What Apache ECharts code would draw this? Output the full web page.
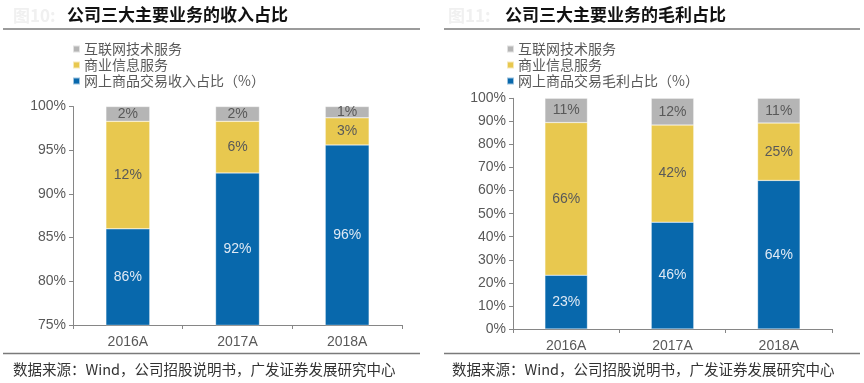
<!DOCTYPE html>
<html><head><meta charset="utf-8">
<script src="https://cdn.jsdelivr.net/npm/echarts@6/dist/echarts.min.js"></script>
<style>html,body{margin:0;padding:0;background:#fff}#c{width:864px;height:383px}</style>
</head><body><div id="c"></div>
<script>
// ---- data ----
const categories = ['2016A', '2017A', '2018A'];
// 公司三大主要业务的收入占比 (%)
const revOnline = [86.0, 92.4, 95.6];    // 网上商品交易收入占比
const revBusiness = [12.3, 5.9, 3.1];    // 商业信息服务
const revInternet = [1.7, 1.7, 1.3];     // 互联网技术服务
// 公司三大主要业务的毛利占比 (%)
const gpOnline = [23.3, 46.3, 64.4];     // 网上商品交易毛利占比
const gpBusiness = [66.2, 42.1, 24.9];   // 商业信息服务
const gpInternet = [10.5, 11.6, 10.7];   // 互联网技术服务

const nameInternet = '互联网技术服务';
const nameBusiness = '商业信息服务';
const nameRevOnline = '网上商品交易收入占比（%）';
const nameGpOnline = '网上商品交易毛利占比（%）';
const titleLeft = '公司三大主要业务的收入占比';
const titleRight = '公司三大主要业务的毛利占比';
const source = '数据来源：Wind，公司招股说明书，广发证券发展研究中心';

const C_BLUE = '#0868ac', C_YELLOW = '#e8c84f', C_GRAY = '#b5b5b5';
const CJK = '"Noto Sans CJK SC", "Noto Sans", sans-serif';
const LAT = '"Liberation Sans", Arial, sans-serif';
const AX = '#868686', TXT = '#595959';

function fmt(p) { return Math.round(p.value) + '%'; }

function mkSeries(name, data, color, idx, labelColor) {
  return {
    name: name, type: 'bar', stack: 's' + idx, xAxisIndex: idx, yAxisIndex: idx,
    data: data, barWidth: '40%',
    itemStyle: { color: color, borderColor: 'rgba(255,255,255,0.6)', borderWidth: 0.5 },
    label: { show: true, position: 'inside', formatter: fmt, color: labelColor,
      fontFamily: LAT, fontSize: 14 },
    emphasis: { disabled: true }
  };
}

function mkX(idx) {
  return {
    type: 'category', gridIndex: idx, data: categories,
    axisLine: { lineStyle: { color: AX, width: 1 } },
    axisTick: { show: true, inside: false, length: 4, alignWithLabel: false, lineStyle: { color: AX } },
    axisLabel: { color: TXT, fontFamily: LAT, fontSize: 14, margin: 10 }
  };
}
function mkY(idx, min, max, interval) {
  return {
    type: 'value', gridIndex: idx, min: min, max: max, interval: interval,
    axisLine: { show: true, lineStyle: { color: AX, width: 1 } },
    axisTick: { show: true, length: 4, lineStyle: { color: AX } },
    splitLine: { show: false },
    axisLabel: { color: TXT, fontFamily: LAT, fontSize: 14, margin: 7, formatter: '{value}%' }
  };
}
function mkLegend(left, names) {
  return {
    orient: 'vertical', left: left, top: 42, padding: 0, itemWidth: 7, itemHeight: 7, itemGap: 2,
    icon: 'rect', data: names, selectedMode: false,
    textStyle: { color: TXT, fontFamily: CJK, fontSize: 14, lineHeight: 14, padding: [0, 0, 0, -1] }
  };
}

const chart = echarts.init(document.getElementById('c'), null, { renderer: 'canvas' });
chart.setOption({
  animation: false,
  backgroundColor: '#fff',
  grid: [
    { left: 73, right: 462, top: 106.5, bottom: 58 },
    { left: 513, right: 32, top: 98.3, bottom: 54 }
  ],
  xAxis: [mkX(0), mkX(1)],
  yAxis: [mkY(0, 75, 100, 5), mkY(1, 0, 100, 10)],
  legend: [
    mkLegend(72, [nameInternet, nameBusiness, nameRevOnline]),
    mkLegend(506, [nameInternet, nameBusiness, nameGpOnline])
  ],
  series: [
    mkSeries(nameRevOnline, revOnline, C_BLUE, 0, '#dfe9f4'),
    mkSeries(nameBusiness, revBusiness, C_YELLOW, 0, TXT),
    mkSeries(nameInternet, revInternet, C_GRAY, 0, TXT),
    mkSeries(nameGpOnline, gpOnline, C_BLUE, 1, '#dfe9f4'),
    mkSeries(nameBusiness, gpBusiness, C_YELLOW, 1, TXT),
    mkSeries(nameInternet, gpInternet, C_GRAY, 1, TXT)
  ],
  graphic: [
    { type: 'text', left: 13, top: 7, style: { text: '图10:', fill: '#f0f0f0', font: 'bold 17px ' + CJK } },
    { type: 'text', left: 67, top: 6, style: { text: titleLeft, fill: '#111', font: 'bold 17px ' + CJK } },
    { type: 'line', shape: { x1: 3, y1: 29, x2: 420, y2: 29 }, style: { stroke: '#7a7a7a', lineWidth: 1.5 } },
    { type: 'text', left: 448, top: 7, style: { text: '图11:', fill: '#f0f0f0', font: 'bold 17px ' + CJK } },
    { type: 'text', left: 505, top: 6, style: { text: titleRight, fill: '#111', font: 'bold 17px ' + CJK } },
    { type: 'line', shape: { x1: 444, y1: 29, x2: 860, y2: 29 }, style: { stroke: '#7a7a7a', lineWidth: 1.5 } },
    { type: 'line', shape: { x1: 3, y1: 353.5, x2: 420, y2: 353.5 }, style: { stroke: '#7a7a7a', lineWidth: 1.5 } },
    { type: 'line', shape: { x1: 444, y1: 353.5, x2: 860, y2: 353.5 }, style: { stroke: '#7a7a7a', lineWidth: 1.5 } },
    { type: 'text', left: 13, top: 362, style: { text: source, fill: '#333', font: '14.5px ' + CJK } },
    { type: 'text', left: 452, top: 362, style: { text: source, fill: '#333', font: '14.5px ' + CJK } }
  ]
});
</script>
</body></html>
